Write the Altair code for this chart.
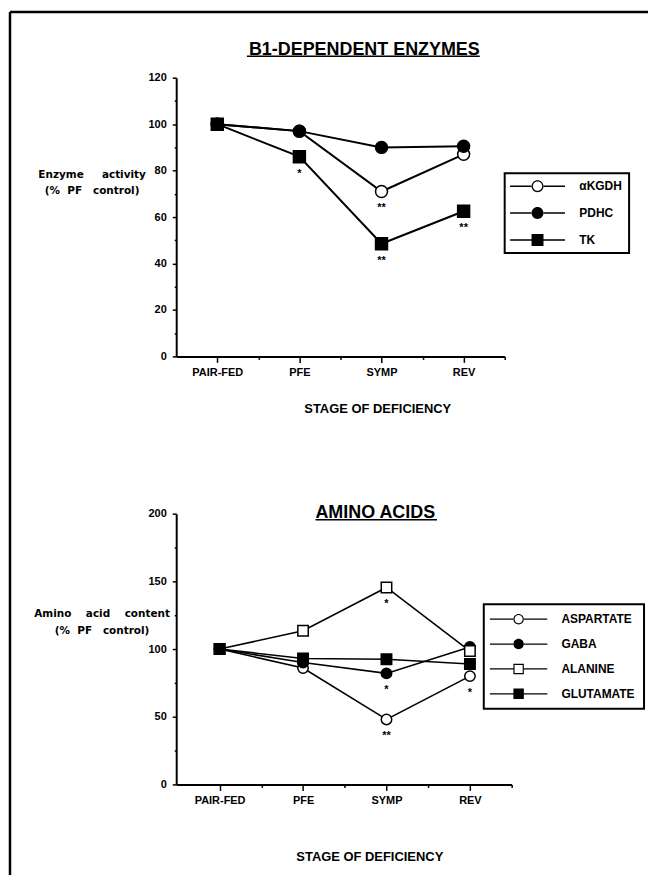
import altair as alt
import pandas as pd

# ---------------- data ----------------
stages = ["PAIR-FED", "PFE", "SYMP", "REV"]

enzymes = ["αKGDH", "PDHC", "TK"]
akgdh = [100, 97, 71, 87]
pdhc = [100, 97, 90, 90.5]
tk = [100, 86, 48.5, 62.5]
akgdh_sig = ["", "", "**", ""]
pdhc_sig = ["", "", "", ""]
tk_sig = ["", "*", "**", "**"]

aminos = ["ASPARTATE", "GABA", "ALANINE", "GLUTAMATE"]
aspartate = [100, 86, 48, 80]
gaba = [100, 90, 82, 101.5]
alanine = [100, 113.5, 145.5, 98.5]
glutamate = [100, 93, 92.5, 89]
aspartate_sig = ["", "", "**", "*"]
gaba_sig = ["", "", "*", ""]
alanine_sig = ["", "", "*", ""]
glutamate_sig = ["", "", "", ""]

top_ticks_y = [0, 10, 20, 30, 40, 50, 60, 70, 80, 90, 100, 110, 120]
bot_ticks_y = [0, 25, 50, 75, 100, 125, 150, 175, 200]
x_ticks = [1, 1.5, 2, 2.5, 3, 3.5, 4, 4.5]

# marker style per series (open / filled, circle / square)
top_style = {"αKGDH": ("circle", "white"), "PDHC": ("circle", "black"), "TK": ("square", "black")}
bot_style = {"ASPARTATE": ("circle", "white"), "GABA": ("circle", "black"),
             "ALANINE": ("square", "white"), "GLUTAMATE": ("square", "black")}


def build(names, series, sigs, style):
    rows = []
    for n, vals, ss in zip(names, series, sigs):
        for i, (v, s) in enumerate(zip(vals, ss)):
            rows.append({"series": n, "pos": i + 1, "stage": stages[i], "value": v, "sig": s,
                         "mshape": style[n][0], "mfill": style[n][1]})
    return pd.DataFrame(rows)


top_df = build(enzymes, [akgdh, pdhc, tk], [akgdh_sig, pdhc_sig, tk_sig], top_style)
bot_df = build(aminos, [aspartate, gaba, alanine, glutamate],
               [aspartate_sig, gaba_sig, alanine_sig, glutamate_sig], bot_style)

FONT = "Liberation Sans"
YFONT = "DejaVu Sans"
NB = "\u00a0"
js_stages = "['', " + ", ".join("'%s'" % s for s in stages) + "]"
x_label_expr = "datum.value % 1 == 0 ? " + js_stages + "[datum.value] : ''"


def leg_path(kind, fill, half, lt=0.12, inner=0.78):
    # connecting line drawn as two thin filled bars
    p = ("M-%.2f,-%.2fL-0.95,-%.2fL-0.95,%.2fL-%.2f,%.2fZ" % (half, lt, lt, lt, half, lt) +
         "M0.95,-%.2fL%.2f,-%.2fL%.2f,%.2fL0.95,%.2fZ" % (lt, half, lt, half, lt, lt))
    if kind == "circle":
        p += "M-1,0A1,1 0 1,0 1,0A1,1 0 1,0 -1,0Z"
        if fill == "white":
            p += "M-%.2f,0A%.2f,%.2f 0 1,1 %.2f,0A%.2f,%.2f 0 1,1 -%.2f,0Z" % (
                inner, inner, inner, inner, inner, inner, inner)
    else:
        p += "M-1,-1L1,-1L1,1L-1,1Z"
        if fill == "white":
            p += "M-%.2f,-%.2fL-%.2f,%.2fL%.2f,%.2fL%.2f,-%.2fZ" % (
                inner, inner, inner, inner, inner, inner, inner, inner)
    return p


def x_axis(title_x, title_y):
    return alt.Axis(
        values=x_ticks, labelExpr=x_label_expr, title="STAGE OF DEFICIENCY",
        titleX=title_x, titleY=title_y, titleAlign="center", titleBaseline="middle",
        titleFont=FONT, titleFontSize=13, titleFontWeight="bold", titleColor="black",
        labelFont=FONT, labelFontSize=11, labelFontWeight="bold", labelColor="black",
        labelPadding=4, labelOverlap=False, labelFlush=False,
        domainColor="black", domainWidth=2, tickColor="black", tickWidth=1.5,
        tickSize={"condition": {"test": "datum.value % 1 != 0", "value": 3}, "value": 6},
        grid=False,
    )


def y_axis(values, step, title, tx, ty, lh):
    return alt.Axis(
        values=values, labelExpr="datum.value %% %d == 0 ? datum.label : ''" % step,
        title=title, titleAngle=0, titleX=tx, titleY=ty, titleAlign="center",
        titleBaseline="middle", titleLineHeight=lh,
        titleFont=YFONT, titleFontSize=10.5, titleFontWeight="bold", titleColor="black",
        labelFont=FONT, labelFontSize=11, labelFontWeight="bold", labelColor="black",
        labelPadding=6, labelOverlap=False,
        domainColor="black", domainWidth=2, tickColor="black", tickWidth=1.5,
        tickSize={"condition": {"test": "datum.value %% %d != 0" % step, "value": 2}, "value": 4},
        grid=False,
    )


def panel(df, names, style, msize, lw, leg_half, ydom, yvals, ystep, ytitle, ytx, yty, ylh,
          xdom, w, h, xtx, xty, title, title_pos, leg_x, leg_y, leg_pad, leg_rowpad,
          leg_symoff, leg_laboff, ul, extra=None):
    x = alt.X("pos:Q", scale=alt.Scale(domain=xdom, nice=False, zero=False), axis=x_axis(xtx, xty))
    y = alt.Y("value:Q", scale=alt.Scale(domain=ydom, nice=False, zero=False),
              axis=y_axis(yvals, ystep, ytitle, ytx, yty, ylh))
    base = alt.Chart(df)
    lines = base.mark_line(color="black", strokeWidth=lw).encode(x=x, y=y, detail="series:N")
    pts = base.mark_point(stroke="black", strokeWidth=1.5, size=msize, opacity=1, fillOpacity=1).encode(
        x=x, y=y,
        shape=alt.Shape("mshape:N", scale=None),
        fill=alt.Fill("mfill:N", scale=None),
    )
    paths = [leg_path(style[n][0], style[n][1], leg_half) for n in names]
    leg = alt.Legend(
        title=None, orient="none", legendX=leg_x, legendY=leg_y, strokeColor="black",
        padding=leg_pad, rowPadding=leg_rowpad, symbolSize=msize,
        symbolFillColor="black", symbolStrokeWidth=0, symbolOpacity=1,
        symbolOffset=leg_symoff, labelOffset=leg_laboff, labelLimit=200,
        labelFont=FONT, labelFontSize=12, labelFontWeight="bold", labelColor="black",
    )
    dummy = base.mark_point(filled=True, color="black", opacity=0, size=msize).encode(
        x=x, y=y,
        shape=alt.Shape("series:N", scale=alt.Scale(domain=names, range=paths), legend=leg),
    )
    sig = base.transform_filter("datum.sig != ''").mark_text(
        dy=17, fontSize=11, fontWeight="bold", font=FONT, color="black", baseline="middle"
    ).encode(x=x, y=y, text="sig:N")
    one = alt.Chart(pd.DataFrame({"k": [0]}))
    ttl = one.mark_text(text=title, font=FONT, fontSize=18, fontWeight="bold", color="black",
                        align="center", baseline="alphabetic").encode(
        x=alt.value(title_pos[0]), y=alt.value(title_pos[1]))
    underline = one.mark_rule(color="black", strokeWidth=1.5).encode(
        x=alt.value(ul[0]), x2=alt.value(ul[1]), y=alt.value(ul[2]))
    layers = [lines, pts, dummy, sig, ttl, underline]
    if extra is not None:
        layers += extra
    return alt.layer(*layers).properties(width=w, height=h)


one = alt.Chart(pd.DataFrame({"k": [0]}))
frame = [
    one.mark_rule(color="black", strokeWidth=2.5).encode(
        x=alt.value(-167), y=alt.value(-66), y2=alt.value(801)),
    one.mark_rule(color="black", strokeWidth=2.5).encode(
        x=alt.value(-167), x2=alt.value(474), y=alt.value(-66)),
]

top = panel(
    top_df, enzymes, top_style, 144, 2, 4.6,
    [0, 120], top_ticks_y, 20,
    ["Enzyme" + NB * 5 + "activity", "(%" + NB * 2 + "PF" + NB * 3 + "control)"], -85, 97, 16,
    [0.5, 4.5], 330, 280, 202, 52,
    "B1-DEPENDENT ENZYMES", (189, -23),
    330, 96, 7, 15, 20, 36,
    (71, 305, -21.5), extra=frame,
)

bottom = panel(
    bot_df, aminos, bot_style, 110, 1.6, 5.5,
    [0, 200], bot_ticks_y, 50,
    ["Amino" + NB * 4 + "acid" + NB * 4 + "content", "(%" + NB * 2 + "PF" + NB * 3 + "control)"],
    -75, 100, 17,
    [0.48, 4.5], 337, 272, 194, 72,
    "AMINO ACIDS", (200, 4),
    309, 91, 9, 13, 20, 37,
    (140, 262, 6),
)

chart = alt.vconcat(top, bottom, spacing=158, bounds="flush").resolve_scale(
    shape="independent"
).properties(
    padding={"left": 0, "top": 0, "right": 0, "bottom": 0}
).configure_view(strokeWidth=0).configure_legend(strokeWidth=2)

chart.save("out.html", embed_options={"renderer": "svg", "actions": False})
